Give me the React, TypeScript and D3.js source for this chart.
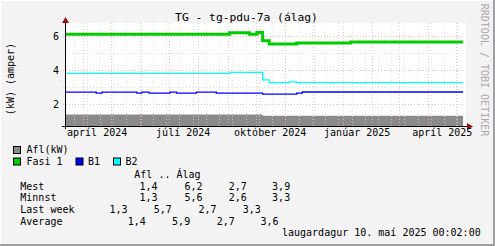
import React from "react";
import * as d3 from "d3";

// ---- data ----
const rangeStart = new Date(2024, 2, 13);
const rangeEnd = new Date(2025, 4, 10, 0, 2);
const seriesEnd = new Date(2025, 4, 8);

const aflDates = ["2024-03-13", "2024-10-08"];
const aflValues = [1.4, 1.32];

const fasiDates = ["2024-03-13", "2024-09-03", "2024-09-24", "2024-10-02", "2024-10-08", "2024-10-15", "2024-11-13", "2025-01-09"];
const fasiValues = [6.12, 6.2, 6.12, 6.22, 5.74, 5.55, 5.61, 5.66];

const b1Dates = ["2024-03-13", "2024-04-15", "2024-04-21", "2024-05-28", "2024-06-02", "2024-06-10", "2024-07-02", "2024-07-09", "2024-07-30", "2024-08-20", "2024-10-08", "2024-11-13", "2024-11-19"];
const b1Values = [2.71, 2.65, 2.71, 2.65, 2.71, 2.65, 2.71, 2.65, 2.71, 2.65, 2.59, 2.65, 2.72];

const b2Dates = ["2024-03-13", "2024-09-03", "2024-10-08", "2024-10-15", "2024-11-05", "2024-11-13"];
const b2Values = [3.82, 3.88, 3.43, 3.27, 3.32, 3.27];

const yMajorTicks = [2, 4, 6];
const yMinorTicks = [1, 3, 5];
const xLabelMonths = ["2024-04-01", "2024-07-01", "2024-10-01", "2025-01-01", "2025-04-01"];
const xLabels = ["apríl 2024", "júlí 2024", "október 2024", "janúar 2025", "apríl 2025"];

const legendNames = ["Mest", "Minnst", "Last week", "Average"];
const legendAfl = ["1,4", "1,3", "1,3", "1,4"];
const legendFasi = ["6,2", "5,6", "5,7", "5,9"];
const legendB1 = ["2,7", "2,6", "2,7", "2,7"];
const legendB2 = ["3,9", "3,3", "3,3", "3,6"];

const title = "TG - tg-pdu-7a (álag)";
const yTitle = "(kW) (amper)";
const watermark = "RRDTOOL / TOBI OETIKER";
const timestamp = "laugardagur 10. maí 2025 00:02:00";

// ---- layout ----
const W = 495, H = 246;
const L = 65, R = 465, T = 23, B = 126;
const FONT = "DejaVu Sans Mono";
const GREEN = "#00cc00", BLUE = "#0000ff", CYAN = "#00ffff", GRAY = "#8a8a8a";

function parse(s: string) {
  const [y, m, d] = s.split("-").map(Number);
  return new Date(y, m - 1, d);
}

function toSeries(dates: string[], values: number[]) {
  const pts = dates.map((d, i) => ({ t: parse(d), v: values[i] }));
  pts.push({ t: seriesEnd, v: values[values.length - 1] });
  return pts;
}

export default function App() {
  const x = d3.scaleTime().domain([rangeStart, rangeEnd]).range([L, R]);
  const y = d3.scaleLinear().domain([0.72, 6.78]).range([B, T]);

  const line = d3
    .line<{ t: Date; v: number }>()
    .x((d) => x(d.t))
    .y((d) => y(d.v))
    .curve(d3.curveStepAfter);
  const area = d3
    .area<{ t: Date; v: number }>()
    .x((d) => x(d.t))
    .y0(B)
    .y1((d) => y(d.v))
    .curve(d3.curveStepAfter);

  const afl = toSeries(aflDates, aflValues);
  const fasi = toSeries(fasiDates, fasiValues);
  const b1 = toSeries(b1Dates, b1Values);
  const b2 = toSeries(b2Dates, b2Values);

  const months = d3.timeMonth.range(d3.timeMonth.ceil(rangeStart), rangeEnd);
  const minor = d3.timeDay.range(new Date(2024, 2, 22), rangeEnd, 14);

  const minorCol = "#dadada";
  const majorCol = "#f4b4b4";

  const valueX = [
    [140, 185, 229.3, 272.7],
    [140, 185, 229.3, 272.7],
    [110, 154.3, 199, 243.3],
    [128.3, 172.7, 217.3, 261],
  ];
  const rowY = [189.5, 201, 212.5, 224.5];

  const legendBox = (bx: number, by: number, col: string) => (
    <rect x={bx + 0.5} y={by + 0.5} width={7} height={7} fill={col} stroke="#000" strokeWidth={1} />
  );

  return (
    <svg width={W} height={H} style={{ position: "absolute", left: 0, top: 0 }} fontFamily={FONT}>
      <rect x={0} y={0} width={W} height={H} fill="#f3f3f3" />
      <line x1={0} y1={0.5} x2={W} y2={0.5} stroke="#ffffff" />
      <line x1={0.5} y1={0} x2={0.5} y2={H} stroke="#ffffff" />
      <line x1={W - 1} y1={0} x2={W - 1} y2={H} stroke="#a0a0a0" strokeWidth={2} />
      <line x1={0} y1={H - 1} x2={W} y2={H - 1} stroke="#a0a0a0" strokeWidth={2} />

      {/* canvas */}
      <rect x={L} y={T} width={R - L + 1} height={B - T} fill="#ffffff" />

      {/* horizontal grid */}
      {yMinorTicks.map((v) => (
        <line key={"my" + v} x1={L - 2} x2={R} y1={Math.round(y(v)) + 0.5} y2={Math.round(y(v)) + 0.5} stroke={minorCol} strokeDasharray="1,2" />
      ))}
      {yMajorTicks.map((v) => (
        <line key={"My" + v} x1={L - 2} x2={R} y1={Math.round(y(v)) + 0.5} y2={Math.round(y(v)) + 0.5} stroke={majorCol} strokeDasharray="1,2" />
      ))}

      {/* area */}
      <path d={area(afl) || ""} fill={GRAY} />

      {/* vertical grid */}
      {minor.map((d, i) => (
        <line key={"mx" + i} x1={Math.round(x(d)) + 0.5} x2={Math.round(x(d)) + 0.5} y1={T} y2={B + 2} stroke={minorCol} strokeDasharray="1,2" strokeOpacity={0.7} />
      ))}
      {months.map((d, i) => (
        <line key={"Mx" + i} x1={Math.round(x(d)) + 0.5} x2={Math.round(x(d)) + 0.5} y1={T} y2={B + 2} stroke={majorCol} strokeDasharray="1,2" strokeOpacity={0.8} />
      ))}

      {/* lines */}
      <path d={line(b1) || ""} fill="none" stroke={BLUE} strokeWidth={1.3} />
      <path d={line(b2) || ""} fill="none" stroke={CYAN} strokeWidth={1.3} />
      <path d={line(fasi) || ""} fill="none" stroke={GREEN} strokeWidth={3} />

      {/* axes */}
      <line x1={L - 3} x2={R + 4} y1={B + 0.5} y2={B + 0.5} stroke="#000" />
      <line x1={L + 0.5} x2={L + 0.5} y1={B + 3} y2={T - 3} stroke="#000" />
      <path d={`M${L + 0.5},${T - 6} L${L - 3},${T} L${L + 4},${T} Z`} fill="#9b1010" />
      <path d={`M${R + 8},${B + 0.5} L${R + 2},${B - 3} L${R + 2},${B + 4} Z`} fill="#9b1010" />

      {/* y labels */}
      {yMajorTicks.map((v) => (
        <text key={"yl" + v} x={59} y={y(v) + 3.6} fontSize={10} textAnchor="end" fill="#000">
          {v}
        </text>
      ))}
      {/* x labels */}
      {xLabelMonths.map((m, i) => (
        <text key={"xl" + i} x={x(d3.timeDay.offset(parse(m), 15))} y={136} fontSize={10} textAnchor="middle" fill="#000">
          {xLabels[i]}
        </text>
      ))}

      {/* title */}
      <text x={246.5} y={20.7} fontSize={11.3} textAnchor="middle" fill="#000">{title}</text>
      <text transform={`translate(13.5,79) rotate(-90)`} fontSize={10} textAnchor="middle" fill="#000">{yTitle}</text>
      <text transform={`translate(481,70) rotate(90)`} fontSize={10} textAnchor="middle" fill="#aaaaaa">{watermark}</text>

      {/* legend */}
      {legendBox(13, 146, GRAY)}
      <text x={26.5} y={153} fontSize={10} fill="#000">Afl(kW)</text>
      {legendBox(13, 157.5, GREEN)}
      <text x={26.5} y={164.5} fontSize={10} fill="#000">Fasi 1</text>
      {legendBox(75.5, 157.5, BLUE)}
      <text x={88} y={164.5} fontSize={10} fill="#000">B1</text>
      {legendBox(113, 157.5, CYAN)}
      <text x={125.5} y={164.5} fontSize={10} fill="#000">B2</text>
      <text x={134.3} y={177.5} fontSize={10} fill="#000">Afl .. Álag</text>

      {legendNames.map((n, i) => (
        <g key={"lr" + i}>
          <text x={20.3} y={rowY[i]} fontSize={10} fill="#000">{n}</text>
          {[legendAfl[i], legendFasi[i], legendB1[i], legendB2[i]].map((s, j) => (
            <text key={j} x={valueX[i][j] - 0.6} y={rowY[i]} fontSize={10} fill="#000">{s}</text>
          ))}
        </g>
      ))}
      <text x={282} y={236} fontSize={10} fill="#000">{timestamp}</text>
    </svg>
  );
}
